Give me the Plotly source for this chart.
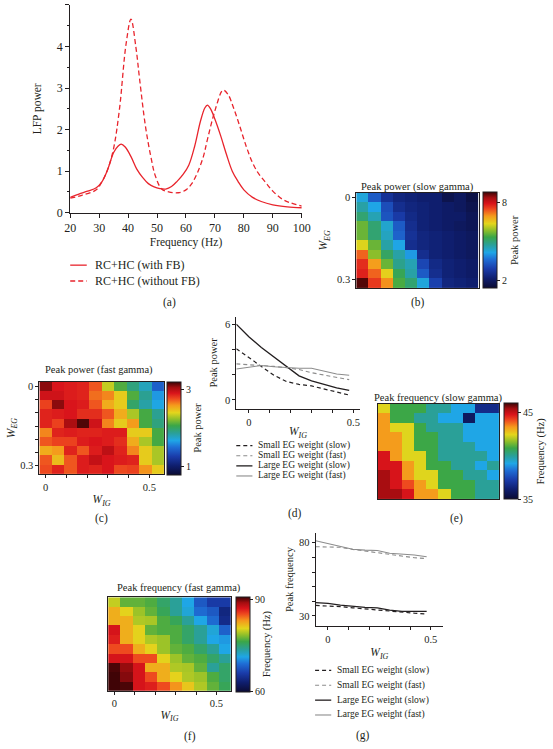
import plotly.graph_objects as go

W, H = 553, 749
FONT = "Liberation Serif"
INK = "#231f20"
RED = "#e8242c"
GRAY = "#8c8c8c"

# ---------------- data ----------------
# (a) LFP power spectra
freq_fb = [20, 23, 26, 29, 31, 33, 35, 36.5, 37.6, 39, 41, 43, 45, 47, 49, 51, 53, 55, 57, 59, 61, 63,
           65, 66.5, 67.4, 68.5, 70, 72, 74, 76, 78, 80, 83, 86, 90, 95, 100]
lfp_fb = [0.37, 0.45, 0.52, 0.6, 0.75, 1.05, 1.45, 1.6, 1.65, 1.58, 1.35, 1.05, 0.85, 0.7, 0.62, 0.58, 0.57,
          0.63, 0.76, 0.92, 1.15, 1.6, 2.2, 2.52, 2.59, 2.5, 2.25, 1.85, 1.4, 1.0, 0.75, 0.55, 0.37, 0.27,
          0.19, 0.14, 0.12]
freq_nofb = [20, 24, 29, 31, 33, 35, 37, 39.3, 41, 42.7, 44, 46, 48, 49.4, 51.6, 54, 57.3, 60, 62, 64, 66,
             67.4, 70.2, 72.8, 74.5, 76.3, 78.5, 80.8, 83, 85, 87.6, 90, 93.2, 96, 100]
lfp_nofb = [0.35, 0.42, 0.55, 0.75, 1.05, 1.55, 2.48, 4.06, 4.66, 3.98, 3.2, 2.08, 1.3, 0.89, 0.57, 0.5,
            0.48, 0.55, 0.7, 0.97, 1.35, 1.76, 2.5, 2.95, 2.85, 2.55, 2.1, 1.6, 1.2, 0.95, 0.72, 0.52,
            0.33, 0.24, 0.16]

# heatmap axes
w_ig = [0.0, 0.06, 0.12, 0.18, 0.24, 0.30, 0.36, 0.42, 0.48, 0.54]
w_eg = [0.0, 0.035, 0.07, 0.105, 0.14, 0.175, 0.21, 0.245, 0.28, 0.315]

# (b) peak power, slow gamma
peak_power_slow = [
    [4.2, 3.3, 2.6, 2.3, 2.2, 2.1, 2.1, 1.7, 1.9, 1.6],
    [4.6, 4.1, 3.1, 2.5, 2.3, 2.2, 2.1, 2.0, 1.9, 1.7],
    [5.0, 4.5, 3.2, 2.8, 2.4, 2.2, 2.1, 2.0, 2.0, 1.8],
    [5.6, 5.0, 4.3, 3.3, 2.5, 2.2, 2.1, 2.0, 1.9, 1.8],
    [5.6, 5.0, 4.4, 3.4, 2.6, 2.3, 2.2, 2.1, 2.0, 1.9],
    [6.3, 5.6, 4.6, 4.1, 2.5, 2.3, 2.2, 2.1, 2.0, 1.9],
    [7.3, 5.8, 5.1, 4.6, 4.0, 2.5, 2.2, 2.1, 2.0, 1.9],
    [7.7, 6.9, 5.6, 4.8, 4.5, 3.0, 2.4, 2.2, 2.1, 2.0],
    [7.8, 7.3, 6.4, 5.2, 4.6, 3.3, 2.5, 2.2, 2.1, 2.0],
    [8.7, 7.6, 7.0, 5.4, 5.0, 4.2, 2.9, 2.3, 2.2, 2.1],
]
# (c) peak power, fast gamma
peak_power_fast = [
    [3.10, 2.92, 2.90, 2.88, 2.75, 2.35, 2.12, 1.95, 1.80, 1.45],
    [2.95, 2.95, 2.90, 2.88, 2.70, 2.65, 2.45, 2.12, 1.90, 1.65],
    [2.80, 3.10, 2.92, 2.90, 2.75, 2.55, 2.45, 2.00, 1.85, 1.70],
    [2.88, 2.90, 2.92, 2.85, 2.85, 2.75, 2.55, 2.30, 2.10, 1.90],
    [2.88, 2.80, 3.05, 3.18, 2.95, 2.65, 2.45, 2.60, 2.10, 1.95],
    [2.65, 2.88, 2.90, 2.88, 2.88, 2.90, 2.90, 2.45, 2.45, 2.10],
    [2.75, 2.80, 2.80, 2.90, 2.92, 2.90, 2.85, 2.55, 2.30, 2.10],
    [2.55, 2.60, 2.88, 2.75, 2.90, 3.00, 2.88, 2.65, 2.45, 2.30],
    [2.75, 2.50, 2.75, 2.90, 2.98, 2.92, 2.90, 2.88, 2.45, 2.30],
    [2.78, 2.88, 2.75, 2.90, 2.88, 2.92, 2.78, 2.80, 2.62, 2.45],
]
# (e) peak frequency, slow gamma
peak_freq_slow = [
    [42.4, 40.9, 40.9, 40.9, 40.0, 40.0, 39.1, 39.1, 36.6, 36.6],
    [43.3, 40.9, 40.9, 40.0, 40.0, 39.1, 39.1, 35.8, 39.1, 39.1],
    [43.3, 42.4, 42.4, 40.9, 40.0, 40.0, 40.0, 39.1, 39.1, 39.1],
    [43.3, 43.3, 42.4, 40.9, 40.9, 40.0, 40.0, 39.1, 39.1, 39.1],
    [43.3, 43.3, 42.4, 40.9, 40.9, 40.0, 40.0, 40.0, 39.1, 39.1],
    [44.8, 43.3, 42.4, 42.4, 40.9, 40.0, 40.0, 40.0, 40.0, 39.1],
    [44.8, 44.8, 43.3, 42.4, 40.9, 40.9, 40.0, 40.0, 39.1, 40.0],
    [45.4, 44.8, 43.3, 42.4, 42.4, 40.9, 40.9, 40.0, 40.0, 39.1],
    [45.4, 44.8, 44.1, 43.3, 42.4, 40.9, 40.9, 40.9, 40.0, 40.0],
    [45.4, 45.4, 44.8, 43.3, 43.3, 42.4, 40.9, 40.9, 40.0, 40.0],
]
# (f) peak frequency, fast gamma
peak_freq_fast = [
    [80.0, 77.5, 77.5, 77.0, 75.5, 74.0, 71.5, 68.0, 66.0, 66.0],
    [82.5, 81.0, 79.0, 77.5, 76.0, 74.0, 72.0, 69.0, 68.0, 64.0],
    [82.5, 82.5, 79.5, 79.3, 77.0, 76.0, 74.0, 71.5, 69.0, 64.5],
    [87.5, 82.5, 81.0, 77.5, 77.0, 77.0, 75.5, 74.0, 72.0, 68.5],
    [87.0, 82.5, 81.0, 79.5, 79.0, 77.0, 75.5, 74.0, 71.5, 71.0],
    [85.5, 85.5, 82.5, 81.0, 79.0, 77.5, 77.0, 75.5, 74.0, 71.5],
    [87.5, 87.5, 85.5, 85.5, 81.0, 79.0, 77.5, 77.0, 75.5, 74.0],
    [90.8, 89.5, 87.5, 82.5, 82.5, 79.5, 79.3, 77.5, 74.0, 75.5],
    [91.0, 89.8, 87.5, 85.5, 82.5, 81.0, 79.5, 79.0, 77.0, 75.5],
    [91.0, 90.8, 87.5, 87.0, 85.5, 83.5, 81.5, 79.5, 77.5, 76.0],
]

# (d), (g) line plots
w_ig_line = [-0.06, 0.0, 0.06, 0.12, 0.18, 0.24, 0.30, 0.36, 0.42, 0.48]
power_small_slow = [4.05, 3.35, 2.6, 1.95, 1.45, 1.22, 1.1, 0.85, 0.6, 0.38]
power_small_fast = [2.85, 2.8, 2.72, 2.65, 2.55, 2.4, 2.15, 1.95, 1.8, 1.6]
power_large_slow = [6.0, 5.0, 4.15, 3.4, 2.65, 1.9, 1.5, 1.2, 0.95, 0.75]
power_large_fast = [2.45, 2.6, 2.72, 2.62, 2.55, 2.5, 2.5, 2.3, 2.05, 1.95]
freq_small_slow = [37.2, 36.9, 36.4, 35.6, 34.8, 34.1, 33.4, 32.6, 31.9, 31.4]
freq_small_fast = [77.3, 77.1, 76.9, 75.5, 74.4, 73.2, 72.0, 70.6, 69.8, 69.2]
freq_large_slow = [39.1, 38.6, 37.4, 36.4, 35.9, 35.6, 34.0, 33.1, 32.9, 33.1]
freq_large_fast = [81.4, 79.5, 77.8, 75.6, 75.0, 74.7, 72.8, 72.3, 71.7, 70.5]

legend_a = ["RC+HC (with FB)", "RC+HC (without FB)"]
legend_dg = ["Small EG weight (slow)", "Small EG weight (fast)",
             "Large EG weight (slow)", "Large EG weight (fast)"]

# ---------------- styles ----------------
COLORSCALE = [
    [0.0, "#0b0b33"], [0.1, "#0f1e6e"], [0.2, "#1a3caa"], [0.3, "#1f6fd6"],
    [0.37, "#1fa6e6"], [0.45, "#2aa098"], [0.53, "#3aa648"], [0.6, "#8fbf2a"],
    [0.67, "#e3d61c"], [0.75, "#f59a1c"], [0.82, "#ee4a1f"], [0.88, "#d9141b"],
    [0.94, "#a50d10"], [1.0, "#3a0405"],
]
sty_fb = dict(color=RED, width=1.3)
sty_nofb = dict(color=RED, width=1.3, dash="5px,3px")
sty_small_slow = dict(color=INK, width=1.2, dash="4px,3px")
sty_small_fast = dict(color=GRAY, width=1.1, dash="4px,3px")
sty_large_slow = dict(color=INK, width=1.3)
sty_large_fast = dict(color=GRAY, width=1.1)


def xd(x0, x1):
    return [x0 / W, x1 / W]


def yd(y0, y1):
    return [1 - y1 / H, 1 - y0 / H]


def px(x):
    return x / W


def py(y):
    return 1 - y / H


def fnt(size):
    return dict(size=size, color=INK, family=FONT)


def ax(**kw):
    base = dict(showline=True, linecolor=INK, linewidth=1, ticks="outside", ticklen=4,
                tickcolor=INK, tickwidth=1, showgrid=False, zeroline=False, tickfont=fnt(11))
    base.update(kw)
    return base


def ttl(s, standoff, size=11.5):
    return dict(text=s, standoff=standoff, font=fnt(size))


def cbar(x0, y0, y1, tickvals, title):
    return dict(x=px(x0), xanchor="left", y=py((y0 + y1) / 2), yanchor="middle",
                len=y1 - y0, lenmode="pixels", thickness=13.5, thicknessmode="pixels",
                xpad=0, ypad=0, outlinewidth=1, outlinecolor=INK, tickvals=tickvals,
                ticks="outside", ticklen=3, tickcolor=INK, tickfont=fnt(10),
                title=dict(text=title, side="right", font=fnt(10.5)))


fig = go.Figure()

# (a)
fig.add_trace(go.Scatter(x=freq_fb, y=lfp_fb, mode="lines", line=dict(sty_fb, shape="spline"),
                         name=legend_a[0], xaxis="x", yaxis="y"))
fig.add_trace(go.Scatter(x=freq_nofb, y=lfp_nofb, mode="lines", line=dict(sty_nofb, shape="spline"),
                         name=legend_a[1], xaxis="x", yaxis="y"))

# (b)
fig.add_trace(go.Heatmap(x=w_ig, y=w_eg, z=peak_power_slow, zmin=1.36, zmax=8.8,
                         colorscale=COLORSCALE, xaxis="x2", yaxis="y2",
                         colorbar=cbar(490.7, 194, 290, [2, 8], "Peak power")))
# (c)
fig.add_trace(go.Heatmap(x=w_ig, y=w_eg, z=peak_power_fast, zmin=0.8, zmax=3.21,
                         colorscale=COLORSCALE, xaxis="x3", yaxis="y3",
                         colorbar=cbar(165, 385, 478.3, [1, 3], "Peak power")))
# (d)
for ys, st, nm in [(power_small_slow, sty_small_slow, legend_dg[0]),
                   (power_small_fast, sty_small_fast, legend_dg[1]),
                   (power_large_slow, sty_large_slow, legend_dg[2]),
                   (power_large_fast, sty_large_fast, legend_dg[3])]:
    fig.add_trace(go.Scatter(x=w_ig_line, y=ys, mode="lines", line=st, name=nm,
                             xaxis="x4", yaxis="y4"))
# (e)
fig.add_trace(go.Heatmap(x=w_ig, y=w_eg, z=peak_freq_slow, zmin=35, zmax=46.1,
                         colorscale=COLORSCALE, xaxis="x5", yaxis="y5",
                         colorbar=cbar(512.3, 407.3, 503.3, [35, 45], "Frequency (Hz)")))
# (f)
fig.add_trace(go.Heatmap(x=w_ig, y=w_eg, z=peak_freq_fast, zmin=60, zmax=91.1,
                         colorscale=COLORSCALE, xaxis="x6", yaxis="y6",
                         colorbar=cbar(236, 602.7, 697.3, [60, 90], "Frequency (Hz)")))
# (g)
for ys, st, nm in [(freq_small_slow, sty_small_slow, legend_dg[0]),
                   (freq_small_fast, sty_small_fast, legend_dg[1]),
                   (freq_large_slow, sty_large_slow, legend_dg[2]),
                   (freq_large_fast, sty_large_fast, legend_dg[3])]:
    fig.add_trace(go.Scatter(x=w_ig_line, y=ys, mode="lines", line=st, name=nm,
                             xaxis="x7", yaxis="y7"))

W_IG = "<i>W</i><sub><i>IG</i></sub>"
W_EG = "<i>W</i><sub><i>EG</i></sub>"

hm_x = dict(range=[-0.03, 0.57], mirror=True)
hm_y = dict(range=[0.3325, -0.0175], mirror=True)
minor_x = dict(tickvals=[0.1, 0.2, 0.3, 0.4], ticks="outside", ticklen=3, tickcolor=INK)
minor_y = dict(tickvals=[0.05, 0.1, 0.15, 0.2, 0.25], ticks="outside", ticklen=3, tickcolor=INK)

fig.update_layout(
    width=W, height=H, margin=dict(l=0, r=0, t=0, b=0),
    paper_bgcolor="white", plot_bgcolor="white", showlegend=False,
    font=dict(family=FONT, size=11, color=INK),
    xaxis=ax(domain=xd(66, 304), range=[20, 100], dtick=10, tick0=20, anchor="y",
             tickfont=fnt(12), title=ttl("Frequency (Hz)", 3)),
    yaxis=ax(domain=yd(4, 214), range=[0, 5], dtick=1, anchor="x", tickfont=fnt(12),
             minor=dict(dtick=0.5, ticks="outside", ticklen=2, tickcolor=INK),
             title=ttl("LFP power", 12)),
    xaxis2=ax(domain=xd(360, 485.7), anchor="y2", ticks="", showticklabels=False, **hm_x),
    yaxis2=ax(domain=yd(194, 290), anchor="x2", tickvals=[0, 0.3], ticktext=["0", "0.3"],
              ticklen=3, tickfont=fnt(10.5), title=ttl(W_EG, 6), **hm_y),
    xaxis3=ax(domain=xd(34.3, 162.3), anchor="y3", tickvals=[0, 0.5], ticktext=["0", "0.5"],
              ticklen=3, minor=minor_x, tickfont=fnt(10.5), title=ttl(W_IG, 3), **hm_x),
    yaxis3=ax(domain=yd(385, 478.3), anchor="x3", tickvals=[0, 0.3], ticktext=["0", "0.3"],
              ticklen=3, minor=minor_y, tickfont=fnt(10.5), title=ttl(W_EG, 2), **hm_y),
    xaxis4=ax(domain=xd(236.7, 363.5), range=[-0.06, 0.53], anchor="y4", tickvals=[0, 0.5],
              ticktext=["0", "0.5"], ticklen=3, minor=minor_x, tickfont=fnt(10.5),
              title=ttl(W_IG, 0)),
    yaxis4=ax(domain=yd(319, 412.7), range=[-0.75, 6.6], anchor="x4", tickvals=[0, 6],
              ticklen=3, minor=dict(tickvals=[2, 4], ticks="outside", ticklen=3, tickcolor=INK),
              tickfont=fnt(10.5), title=ttl("Peak power", 5, 10.5)),
    xaxis5=ax(domain=xd(382.3, 506.7), anchor="y5", ticks="", showticklabels=False, **hm_x),
    yaxis5=ax(domain=yd(407.3, 503.3), anchor="x5", ticks="", showticklabels=False, **hm_y),
    xaxis6=ax(domain=xd(105, 231), anchor="y6", tickvals=[0, 0.5], ticktext=["0", "0.5"],
              ticklen=3, minor=minor_x, tickfont=fnt(10.5), title=ttl(W_IG, 2), **hm_x),
    yaxis6=ax(domain=yd(602.7, 697.3), anchor="x6", ticks="", showticklabels=False, **hm_y),
    xaxis7=ax(domain=xd(318.3, 449.3), range=[-0.06, 0.56], anchor="y7", tickvals=[0, 0.5],
              ticktext=["0", "0.5"], ticklen=3, minor=minor_x, tickfont=fnt(10.5),
              title=ttl(W_IG, 4)),
    yaxis7=ax(domain=yd(538, 631.7), range=[23.2, 86.5], anchor="x7", tickvals=[30, 80],
              ticklen=3, minor=dict(tickvals=[40, 50, 60, 70], ticks="outside", ticklen=3,
                                    tickcolor=INK),
              tickfont=fnt(10.5), title=ttl("Peak frequency", 3, 10.5)),
)

ann = []
shapes = []


def text(x, y, s, size=11, angle=0, xanchor="center"):
    ann.append(dict(x=px(x), y=py(y), xref="paper", yref="paper", text=s, showarrow=False,
                    font=fnt(size), textangle=angle, xanchor=xanchor, yanchor="middle"))


def legend(labels, styles, x0, x1, xt, ys, size):
    for lab, st, yy in zip(labels, styles, ys):
        shapes.append(dict(type="line", xref="paper", yref="paper", x0=px(x0), x1=px(x1),
                           y0=py(yy), y1=py(yy),
                           line=dict(color=st["color"], width=st["width"],
                                     dash=st.get("dash", "solid"))))
        text(xt, yy, lab, size=size, xanchor="left")


# (a)
legend(legend_a, [sty_fb, sty_nofb], 66, 83, 89, [267, 283], 12)
text(168, 305, "(a)", 11.5)
# (b)
text(423, 187.7, "Peak power (slow gamma)", 10.5)
text(423, 304.5, "(b)", 11.5)
# (c)
text(96, 373.3, "Peak power (fast gamma)", 10.5)
text(98, 523.3, "(c)", 11.5)
# (d)
legend(legend_dg, [sty_small_slow, sty_small_fast, sty_large_slow, sty_large_fast],
       236.7, 253.3, 257, [449.5, 459.7, 469.9, 480.1], 9.5)
text(297, 518, "(d)", 11.5)
# (e)
text(444, 401.7, "Peak frequency (slow gamma)", 10.5)
text(463, 523.3, "(e)", 11.5)
# (f)
text(177.7, 593.3, "Peak frequency (fast gamma)", 10.5)
text(189, 743.3, "(f)", 11.5)
# (g)
legend(legend_dg, [sty_small_slow, sty_small_fast, sty_large_slow, sty_large_fast],
       317.7, 334.3, 338.3, [676.7, 691.7, 706.7, 721.7], 9.5)
text(367, 742.7, "(g)", 11.5)

fig.update_layout(annotations=ann, shapes=shapes)

fig.write_html("out.html", config={"displayModeBar": False},
               post_script="document.body.style.margin='0';document.body.style.overflow='hidden';")
